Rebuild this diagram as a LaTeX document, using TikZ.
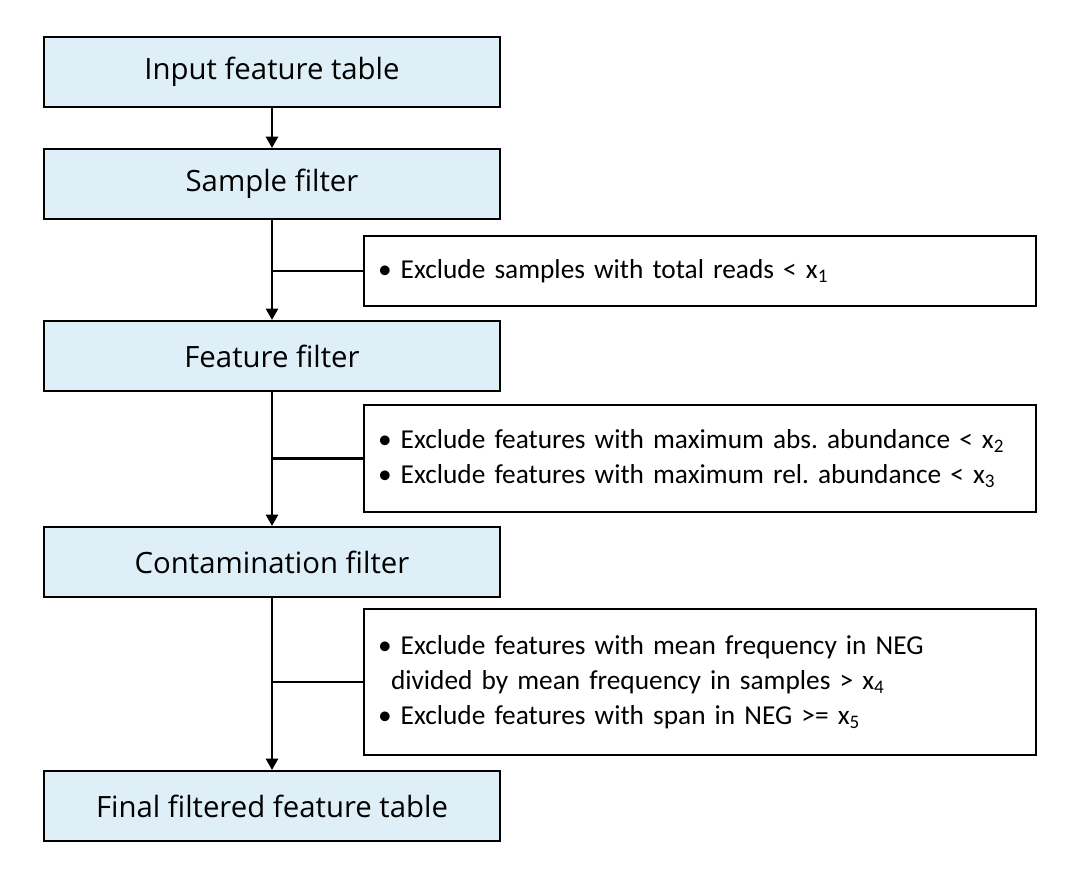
\documentclass[tikz,border=0pt]{standalone}
\usepackage{fontspec}
\setmainfont{Carlito}
\newfontfamily\boxfont{Open Sans}
\usetikzlibrary{arrows.meta}
\definecolor{boxblue}{HTML}{DEEFF8}
\tikzset{
  mainbox/.style={draw=black, line width=1.5pt, fill=boxblue, minimum width=342pt, minimum height=52.5pt, inner sep=0pt, font=\boxfont\fontsize{22}{26}\selectfont},
  sidebox/.style={draw=black, line width=1.5pt, fill=white, minimum width=504pt, inner xsep=10.5pt, inner ysep=0pt, text width=483pt, align=left, font=\fontsize{20.5}{26.25}\selectfont\frenchspacing},
  flow/.style={line width=1.9pt, -{Triangle[width=9pt,length=8.5pt]}},
  tick/.style={line width=1.9pt}
}
\begin{document}
\begin{tikzpicture}[x=0.75pt,y=-0.75pt]
\useasboundingbox (0,0) rectangle (1087,879);
\node[mainbox] (m1) at (272,71.5) {Input feature table};
\node[mainbox] (m2) at (272,184) {Sample filter};
\node[mainbox] (m3) at (272,356) {Feature filter};
\node[mainbox] (m4) at (272,562) {Contamination filter};
\node[mainbox] (m5) at (272,806) {Final filtered feature table};
\node[sidebox, minimum height=52.5pt] (s1) at (700,271) {• Exclude samples with total reads < x\textsubscript{1}};
\node[sidebox, minimum height=80.25pt] (s2) at (700,458.5) {• Exclude features with maximum abs. abundance < x\textsubscript{2}\\• Exclude features with maximum rel. abundance < x\textsubscript{3}};
\node[sidebox, minimum height=109.5pt] (s3) at (700,682) {• Exclude features with mean frequency in NEG\\\hspace*{9.75pt}divided by mean frequency in samples > x\textsubscript{4}\\• Exclude features with span in NEG >= x\textsubscript{5}};
\draw[flow] (m1.south) -- (m2.north);
\draw[flow] (m2.south) -- (m3.north);
\draw[flow] (m3.south) -- (m4.north);
\draw[flow] (m4.south) -- (m5.north);
\draw[tick] (m2.south |- s1.west) -- (s1.west);
\draw[tick] (m3.south |- s2.west) -- (s2.west);
\draw[tick] (m4.south |- s3.west) -- (s3.west);
\end{tikzpicture}
\end{document}
